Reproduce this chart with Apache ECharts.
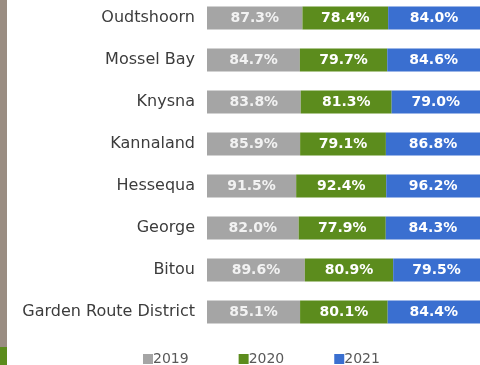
<!DOCTYPE html>
<html>
<head>
<meta charset="utf-8">
<script src="https://cdn.jsdelivr.net/npm/echarts@6/dist/echarts.min.js"></script>
<style>
  html, body { margin: 0; padding: 0; background: #ffffff; overflow: hidden; }
  #chart { position: absolute; left: 0; top: -3px; width: 480px; height: 368px; }
</style>
</head>
<body>
<div id="chart"></div>
<script>
// Municipalities, top to bottom
const categories = ['Oudtshoorn', 'Mossel Bay', 'Knysna', 'Kannaland', 'Hessequa', 'George', 'Bitou', 'Garden Route District'];
const years = ['2019', '2020', '2021'];
// Rates per year (%)
const values2019 = [87.3, 84.7, 83.8, 85.9, 91.5, 82.0, 89.6, 85.1];
const values2020 = [78.4, 79.7, 81.3, 79.1, 92.4, 77.9, 80.9, 80.1];
const values2021 = [84.0, 84.6, 79.0, 86.8, 96.2, 84.3, 79.5, 84.4];
const colors = ['#a5a5a5', '#5c8c1d', '#3a6fd0'];

const raw = [values2019, values2020, values2021];
// each bar is stacked to 100%: segment length is the value's share of the row total
const totals = categories.map((_, i) => raw.reduce((s, arr) => s + arr[i], 0));

const chart = echarts.init(document.getElementById('chart'), null, { renderer: 'canvas' });

const series = years.map((y, k) => ({
  name: y,
  type: 'bar',
  stack: 'total',
  barWidth: 23,
  itemStyle: { color: colors[k] },
  label: {
    show: true,
    position: 'inside',
    color: k === 0 ? '#f2f2f2' : '#ffffff',
    fontFamily: 'DejaVu Sans',
    fontWeight: 'bold',
    fontSize: 14,
    formatter: p => raw[k][p.dataIndex].toFixed(1) + '%'
  },
  data: raw[k].map((v, i) => v / totals[i] * 100)
}));

chart.setOption({
  animation: false,
  backgroundColor: '#ffffff',
  grid: { left: 207, right: -2, top: 0, bottom: 32, containLabel: false },
  xAxis: {
    type: 'value', min: 0, max: 100, show: false
  },
  yAxis: {
    type: 'category',
    inverse: true,
    data: categories,
    axisLine: { show: false },
    axisTick: { show: false },
    axisLabel: {
      margin: 12,
      color: '#3c3c3c',
      fontFamily: 'DejaVu Sans',
      fontSize: 16
    }
  },
  legend: {
    left: 138,
    top: 350,
    itemWidth: 10,
    itemHeight: 10,
    itemGap: 50,
    icon: 'rect',
    textStyle: { color: '#595959', fontFamily: 'DejaVu Sans', fontSize: 14, padding: [0, 0, 0, -5] },
    data: years
  },
  graphic: [
    { type: 'rect', left: 0, top: 0, shape: { width: 7, height: 350 }, style: { fill: '#9a8d82' } },
    { type: 'rect', left: 0, top: 350, shape: { width: 7, height: 18 }, style: { fill: '#5c8c1d' } }
  ],
  series: series
});
</script>
</body>
</html>
